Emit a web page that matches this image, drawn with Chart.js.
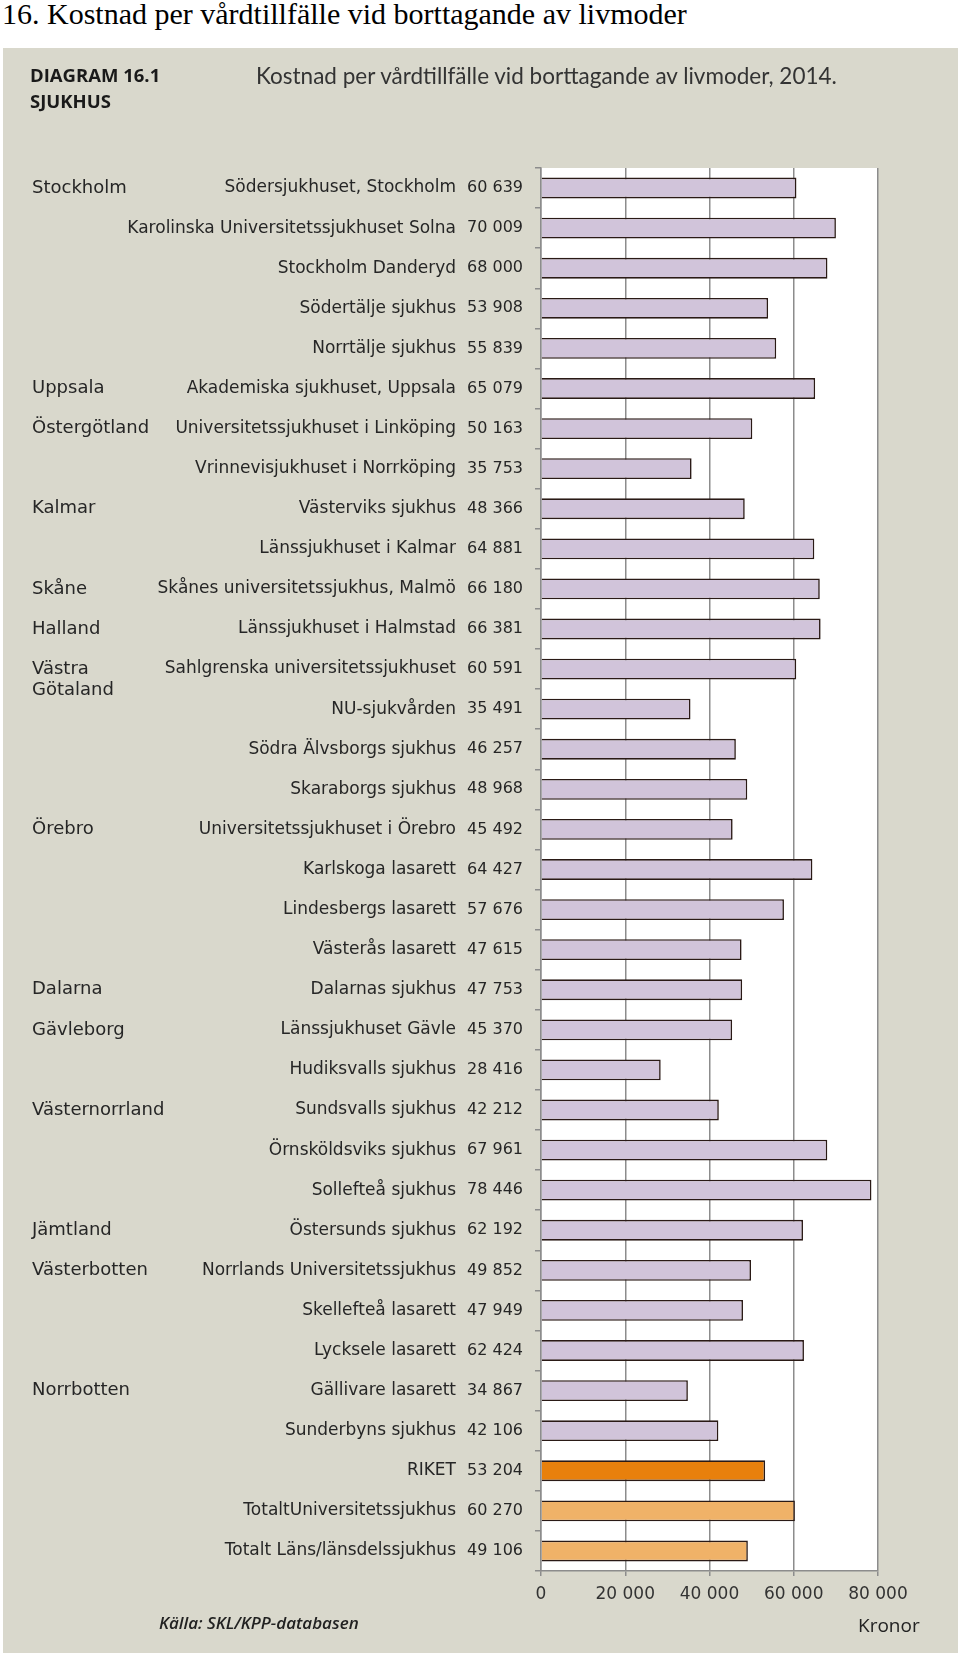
<!DOCTYPE html>
<html>
<head>
<meta charset="utf-8">
<script src="https://cdn.jsdelivr.net/npm/chart.js"></script>
<style>
  body { margin: 0; background: #fff; width: 960px; height: 1664px; position: relative; overflow: hidden; }
  .abs { position: absolute; white-space: nowrap; }
  #rubrik { left: 2px; top: -3px; font-family: "Liberation Serif", serif; font-size: 30px; color: #000; }
  #panel { left: 3px; top: 48px; width: 955px; height: 1605px; background: #d9d8cc; }
  #diagram { left: 30px; top: 62px; font-family: "Open Sans", sans-serif; font-weight: 700; font-size: 18.5px; color: #1a1a1a; line-height: 26px; }
  #titel { left: 256px; top: 62px; font-family: Lato, sans-serif; font-size: 22.5px; color: #333; }
  #kalla { left: 159px; top: 1611px; font-family: "Open Sans", sans-serif; font-style: italic; font-weight: 600; font-size: 17px; color: #222; }
  #kronor { left: 858px; top: 1612px; font-family: "Open Sans", sans-serif; font-size: 19px; color: #222; }
</style>
</head>
<body>
<div class="abs" id="rubrik">16. Kostnad per vårdtillfälle vid borttagande av livmoder</div>
<div class="abs" id="panel"><canvas id="barChart" width="955" height="1605"></canvas></div>
<div class="abs" id="diagram">DIAGRAM 16.1<br>SJUKHUS</div>
<div class="abs" id="titel">Kostnad per vårdtillfälle vid borttagande av livmoder, 2014.</div>
<div class="abs" id="kalla">Källa: SKL/KPP-databasen</div>
<div class="abs" id="kronor">Kronor</div>

<script>
// Sjukhus (kategorier)
const sjukhus = [
    "Södersjukhuset, Stockholm",
    "Karolinska Universitetssjukhuset Solna",
    "Stockholm Danderyd",
    "Södertälje sjukhus",
    "Norrtälje sjukhus",
    "Akademiska sjukhuset, Uppsala",
    "Universitetssjukhuset i Linköping",
    "Vrinnevisjukhuset i Norrköping",
    "Västerviks sjukhus",
    "Länssjukhuset i Kalmar",
    "Skånes universitetssjukhus, Malmö",
    "Länssjukhuset i Halmstad",
    "Sahlgrenska universitetssjukhuset",
    "NU-sjukvården",
    "Södra Älvsborgs sjukhus",
    "Skaraborgs sjukhus",
    "Universitetssjukhuset i Örebro",
    "Karlskoga lasarett",
    "Lindesbergs lasarett",
    "Västerås lasarett",
    "Dalarnas sjukhus",
    "Länssjukhuset Gävle",
    "Hudiksvalls sjukhus",
    "Sundsvalls sjukhus",
    "Örnsköldsviks sjukhus",
    "Sollefteå sjukhus",
    "Östersunds sjukhus",
    "Norrlands Universitetssjukhus",
    "Skellefteå lasarett",
    "Lycksele lasarett",
    "Gällivare lasarett",
    "Sunderbyns sjukhus",
    "RIKET",
    "TotaltUniversitetssjukhus",
    "Totalt Läns/länsdelssjukhus"
];

// Kostnad per vårdtillfälle, kronor
const kostnad = [
    60639, 70009, 68000, 53908, 55839, 65079, 50163, 35753, 48366, 64881,
    66180, 66381, 60591, 35491, 46257, 48968, 45492, 64427, 57676, 47615,
    47753, 45370, 28416, 42212, 67961, 78446, 62192, 49852, 47949, 62424,
    34867, 42106, 53204, 60270, 49106
];

// Landsting/region, visas på första raden för respektive region
const regioner = [
    "Stockholm", "", "", "", "", "Uppsala", "Östergötland", "", "Kalmar", "",
    "Skåne", "Halland", ["", "Västra", "Götaland"], "", "", "", "Örebro", "", "", "",
    "Dalarna", "Gävleborg", "", "Västernorrland", "", "", "Jämtland", "Västerbotten", "", "",
    "Norrbotten", "", "", "", ""
];

// Typ av stapel: s = sjukhus, r = riket, t = totalt
const typ = [
    "s","s","s","s","s","s","s","s","s","s",
    "s","s","s","s","s","s","s","s","s","s",
    "s","s","s","s","s","s","s","s","s","s",
    "s","s","r","t","t"
];

const xTicks = [0, 20000, 40000, 60000, 80000];

function fmt(v) {
    return String(v).replace(/\B(?=(\d{3})+(?!\d))/g, ' ');
}

const farger = { s: '#d1c4da', r: '#e8800c', t: '#f0b268' };
const font = 'DejaVu Sans';

// vit bakgrund i diagramytan
const plotBg = {
    id: 'plotBg',
    beforeDraw(chart) {
        const { ctx, chartArea } = chart;
        ctx.save();
        ctx.fillStyle = '#ffffff';
        ctx.fillRect(chartArea.left, chartArea.top, chartArea.right - chartArea.left, chartArea.bottom - chartArea.top);
        ctx.restore();
    }
};

document.addEventListener('DOMContentLoaded', function () {
    const ctx = document.getElementById('barChart').getContext('2d');
    const chart = new Chart(ctx, {
        type: 'bar',
        data: {
            labels: sjukhus,
            datasets: [{
                data: kostnad,
                backgroundColor: typ.map(t => farger[t]),
                borderColor: '#2a1a16',
                borderWidth: 1.6,
                barPercentage: 0.52,
                categoryPercentage: 1.0
            }]
        },
        plugins: [plotBg],
        options: {
            indexAxis: 'y',
            responsive: false,
            animation: false,
            layout: { padding: { left: 29, top: 120, right: 80, bottom: 42 } },
            plugins: {
                legend: { display: false },
                tooltip: { enabled: false }
            },
            scales: {
                x: {
                    min: 0,
                    max: 80000,
                    afterBuildTicks: s => { s.ticks = xTicks.map(v => ({ value: v })); },
                    afterFit: s => { s.height = 40; },
                    grid: { color: '#8c8c8c', lineWidth: 1.5, tickLength: 5 },
                    border: { color: '#8c8c8c', width: 1.5 },
                    ticks: { color: '#333', font: { family: font, size: 17 }, padding: 8, callback: v => fmt(v) }
                },
                y: {
                    type: 'category',
                    position: 'left',
                    weight: 0,
                    labels: kostnad.map(fmt),
                    afterFit: s => { s.width = 78; },
                    grid: { drawOnChartArea: false, offset: true, tickLength: 6, color: '#8c8c8c', lineWidth: 1.5 },
                    border: { color: '#8c8c8c', width: 1.5 },
                    ticks: { color: '#262626', font: { family: font, size: 16 }, padding: 12, autoSkip: false }
                },
                yNamn: {
                    type: 'category',
                    position: 'left',
                    weight: 1,
                    labels: sjukhus,
                    afterFit: s => { s.width = 431; },
                    grid: { display: false, drawTicks: false },
                    border: { display: false },
                    ticks: { color: '#262626', font: { family: font, size: 17 }, padding: 7, autoSkip: false }
                },
                yRegion: {
                    type: 'category',
                    position: 'left',
                    weight: 2,
                    labels: regioner,
                    afterFit: s => { s.width = 0; },
                    grid: { display: false, drawTicks: false },
                    border: { display: false },
                    ticks: { color: '#262626', font: { family: font, size: 18 }, padding: 0, autoSkip: false, mirror: true }
                }
            }
        }
    });
});
</script>
</body>
</html>
